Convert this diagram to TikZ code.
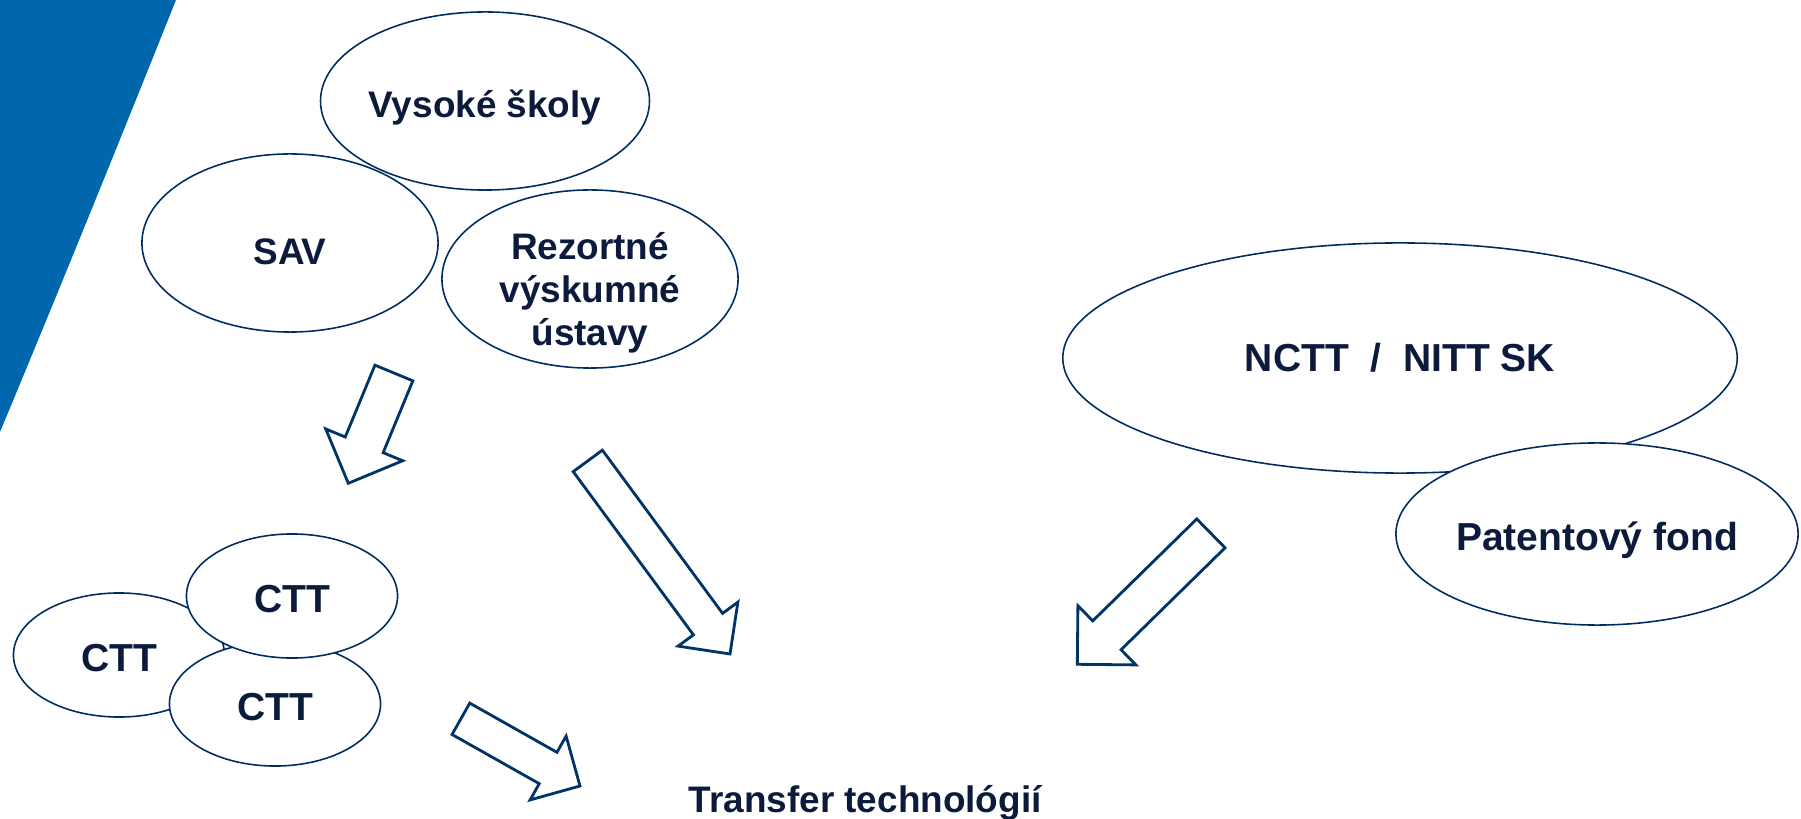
\documentclass[tikz,border=0pt]{standalone}
\usepackage{fontspec}
\setmainfont{Liberation Sans}
\usepackage{xcolor}
\definecolor{bandblue}{RGB}{0,103,172}
\definecolor{ovalnavy}{RGB}{0,45,95}
\definecolor{arrownavy}{RGB}{0,51,102}
\definecolor{inkblue}{RGB}{12,26,60}
\usepackage{tikz}
\usetikzlibrary{shapes.geometric, calc}

% hollow block arrow: tail, tip, half shaft width, half head width
\newcommand{\blockarrow}[4]{%
  \coordinate (#1-b) at ($(#2)!#4!(#1)$);
  \draw[barrow] ($(#1)!#3!90:(#2)$) -- ($(#1-b)!#3!90:(#2)$) -- ($(#1-b)!#4!90:(#2)$) -- (#2)
    -- ($(#1-b)!#4!-90:(#2)$) -- ($(#1-b)!#3!-90:(#2)$) -- ($(#1)!#3!-90:(#2)$) -- cycle;}

\begin{document}
\begin{tikzpicture}[
    x=0.01cm, y=-0.01cm,
    oval/.style={ellipse, draw=ovalnavy, line width=0.45pt, fill=white, inner sep=0pt, align=center, text=inkblue, font=\fontsize{10.5}{12.3}\selectfont\bfseries},
    big oval/.style={oval, minimum width=2.96cm, minimum height=1.78cm},
    small oval/.style={oval, minimum width=2.11cm, minimum height=1.24cm, font=\fontsize{11.1}{12.3}\selectfont\bfseries},
    one line/.style={text height=9.5pt, text depth=0pt},
    barrow/.style={draw=arrownavy, line width=0.8pt, fill=white}
]
\useasboundingbox (0,0) rectangle (1801,819);

% blue band
\fill[bandblue] (0,0) -- (176,0) .. controls (110,165) and (55,300) .. (0,432) -- cycle;

% research institutions
\node[big oval, one line] (vs) at (485,101) {Vysoké školy};
\node[big oval, one line, text height=12.5pt] (sav) at (290,243) {SAV};
\node[big oval, inner ysep=-8pt] (rvu) at (590,279) {\rule{0pt}{15.5pt}Rezortné\\výskumné\\ústavy};

% CTT cluster
\node[small oval, one line] (cttl) at (119,655) {CTT};
\node[small oval, one line] (cttb) at (275,704) {CTT};
\node[small oval, one line] (cttt) at (292,596) {CTT};

% national level
\node[oval, minimum width=6.74cm, minimum height=2.30cm, font=\fontsize{11.1}{12.3}\selectfont\bfseries] (nctt) at (1400,358) {NCTT~~/~~NITT SK};
\node[oval, one line, minimum width=4.02cm, minimum height=1.82cm, font=\fontsize{11.1}{12.3}\selectfont\bfseries] (pf) at (1597,534) {Patentový fond};

\node[anchor=base west, inner sep=0pt, text=inkblue, font=\fontsize{10.5}{12.3}\selectfont\bfseries] (tt) at (688,812) {Transfer technológií};

% arrows
\coordinate (a1) at (393.9,373);   \coordinate (a1tip) at (348.3,483.3);
\coordinate (a2) at (587.8,460.9); \coordinate (a2tip) at (730,654);
\coordinate (a3) at (460.9,718.8); \coordinate (a3tip) at (580,786);
\coordinate (a4) at (1210.9,533.4); \coordinate (a4tip) at (1077.3,664.3);

\blockarrow{a1}{a1tip}{0.205cm}{0.416cm}
\blockarrow{a2}{a2tip}{0.181cm}{0.371cm}
\blockarrow{a3}{a3tip}{0.180cm}{0.366cm}
\blockarrow{a4}{a4tip}{0.202cm}{0.414cm}
\end{tikzpicture}
\end{document}
